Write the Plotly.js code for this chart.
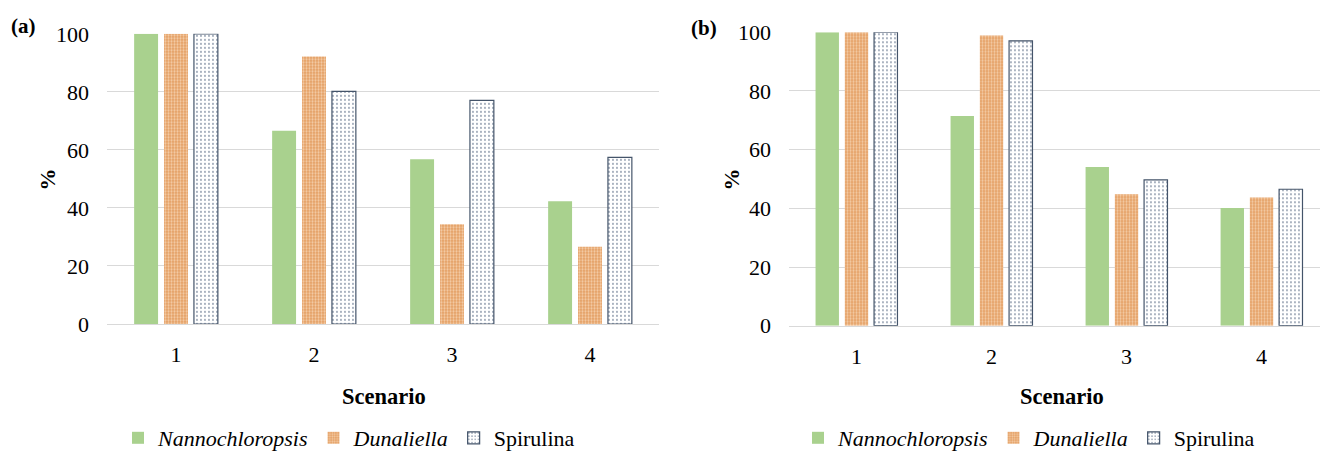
<!DOCTYPE html>
<html>
<head>
<meta charset="utf-8">
<script src="https://cdn.plot.ly/plotly-3.0.1.min.js"></script>
<style>
  html, body { margin: 0; padding: 0; background: #fff; }
  #chart { width: 1320px; height: 459px; }
</style>
</head>
<body>
<div id="chart"></div>
<script>
// ---- data ----
const scenarios = ['1', '2', '3', '4'];
const seriesNames = ['<i>Nannochloropsis</i>', '<i>Dunaliella</i>', 'Spirulina'];
// panel (a)
const nannoA = [100, 66.6, 56.8, 42.3];
const dunaA  = [100, 92.2, 34.4, 26.6];
const spiruA = [100, 80.2, 77.1, 57.4];
// panel (b)
const nannoB = [100, 71.5, 54.1, 40.1];
const dunaB  = [100, 98.9, 44.8, 43.7];
const spiruB = [100, 97.1, 49.7, 46.5];
const yTicks = [0, 20, 40, 60, 80, 100];

// ---- styles ----
const FONT = 'Liberation Serif';
const GRID = '#D9D9D9';
const styles = [
  { color: '#A9D18E', line: { width: 0 } },
  { color: '#E6A46C', line: { width: 0 },
    pattern: { shape: '.', bgcolor: '#E49E62', fgcolor: '#F4CCA6', size: 3, solidity: 0.45, fillmode: 'replace' } },
  { color: '#FFFFFF', line: { color: '#44546A', width: 1.2 },
    pattern: { shape: '.', bgcolor: '#FFFFFF', fgcolor: '#8D99AB', size: 4, solidity: 0.18, fillmode: 'replace' } }
];

function makeTraces(vals, xa, ya, legend) {
  return vals.map((v, i) => ({
    type: 'bar', x: scenarios, y: v, name: seriesNames[i],
    xaxis: xa, yaxis: ya, legend: legend,
    marker: styles[i], cliponaxis: false, hoverinfo: 'skip'
  }));
}

const traces = [].concat(
  makeTraces([nannoA, dunaA, spiruA], 'x', 'y', 'legend'),
  makeTraces([nannoB, dunaB, spiruB], 'x2', 'y2', 'legend2')
);

const W = 1320, H = 459;
const px = v => v / W;
const py = v => (H - v) / H;

function xAxis(domain, range) {
  return {
    domain: domain, range: range, type: 'category',
    showgrid: false, zeroline: false, showline: true, linecolor: GRID, linewidth: 1,
    ticks: '', ticklabelstandoff: 11,
    tickfont: { family: FONT, size: 22, color: '#000' }, fixedrange: true
  };
}
function yAxis(domain, anchor) {
  return {
    domain: domain, range: [0, 100], tickvals: yTicks, anchor: anchor,
    showgrid: true, gridcolor: GRID, gridwidth: 1, zeroline: false, showline: false,
    ticks: '', ticklabelstandoff: 17,
    tickfont: { family: FONT, size: 22, color: '#000' }, fixedrange: true
  };
}

const legendBase = {
  orientation: 'h', xanchor: 'left', yanchor: 'middle',
  font: { family: FONT, size: 22, color: '#000' },
  bgcolor: 'rgba(0,0,0,0)', itemwidth: 30, tracegroupgap: 0,
  itemclick: false, itemdoubleclick: false
};

const layout = {
  width: W, height: H,
  font: { family: FONT },
  margin: { l: 0, r: 0, t: 0, b: 0 },
  paper_bgcolor: '#fff', plot_bgcolor: '#fff',
  barmode: 'group', bargap: 0.35, bargroupgap: 0.2,
  showlegend: true,
  xaxis: Object.assign(xAxis([px(107), px(659)], [-0.5, 3.5]), { anchor: 'y' }),
  yaxis: yAxis([py(328.3), py(34.3)], 'x'),
  xaxis2: Object.assign(xAxis([px(789), 1], [-0.5, 3.433]), { anchor: 'y2' }),
  yaxis2: yAxis([py(330), py(32.7)], 'x2'),
  legend: Object.assign({}, legendBase, { x: px(118), y: py(444) }),
  legend2: Object.assign({}, legendBase, { x: px(798), y: py(444) }),
  annotations: [
    { text: '<b>(a)</b>', x: px(23), y: py(26), xref: 'paper', yref: 'paper', showarrow: false,
      xanchor: 'center', yanchor: 'middle', font: { family: FONT, size: 21, color: '#000' } },
    { text: '<b>(b)</b>', x: px(704), y: py(28), xref: 'paper', yref: 'paper', showarrow: false,
      xanchor: 'center', yanchor: 'middle', font: { family: FONT, size: 21, color: '#000' } },
    { text: '<b>%</b>', x: px(48), y: py(182), xref: 'paper', yref: 'paper', showarrow: false, textangle: -90,
      xanchor: 'center', yanchor: 'middle', font: { family: FONT, size: 22, color: '#000' } },
    { text: '<b>%</b>', x: px(732), y: py(182), xref: 'paper', yref: 'paper', showarrow: false, textangle: -90,
      xanchor: 'center', yanchor: 'middle', font: { family: FONT, size: 22, color: '#000' } },
    { text: '<b>Scenario</b>', x: px(384), y: py(402), xref: 'paper', yref: 'paper', showarrow: false,
      xanchor: 'center', yanchor: 'middle', font: { family: FONT, size: 22.5, color: '#000' } },
    { text: '<b>Scenario</b>', x: px(1062), y: py(402), xref: 'paper', yref: 'paper', showarrow: false,
      xanchor: 'center', yanchor: 'middle', font: { family: FONT, size: 22.5, color: '#000' } }
  ]
};

Plotly.newPlot('chart', traces, layout, { displayModeBar: false, staticPlot: true });
</script>
</body>
</html>
